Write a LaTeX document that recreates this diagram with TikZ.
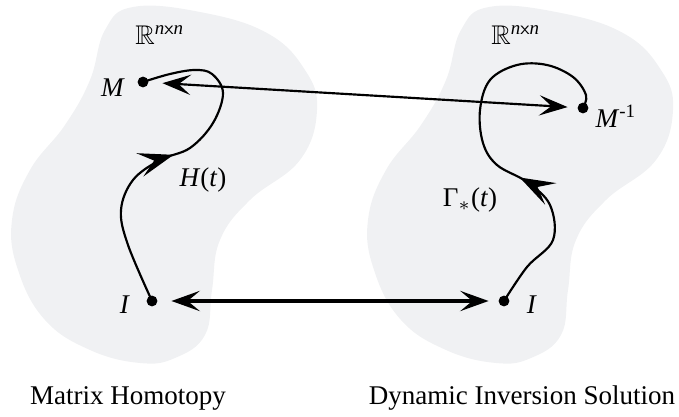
\documentclass[tikz,border=0pt]{standalone}
\usepackage{amssymb}
\usepackage{fontspec}
\setmainfont{Liberation Serif}
\usetikzlibrary{arrows.meta,decorations.markings}
\definecolor{blobgrey}{RGB}{240,241,243}

\begin{document}
\begin{tikzpicture}[
        x=0.37pt, y=-0.37pt,
        font=\fontsize{10}{12}\selectfont,
        >={Stealth[length=10.5pt, width=7.5pt, inset=4.5pt]},
        % punto sulla regione
        dot/.style={circle, fill=black, inner sep=0pt, minimum size=4pt},
        % freccia doppia tra le due regioni
        link/.style={<->, shorten <=5pt, shorten >=3.5pt},
        % traiettoria con freccia a meta'
        traj/.style={
            line width=0.8pt,
            decoration={markings, mark=at position #1 with
                {\arrow{Stealth[length=13pt, width=9pt, inset=5.5pt]}}},
            postaction={decorate}
        }
    ]
    \useasboundingbox (0,0) rectangle (679,417);

    % --- Regioni grigie ---
    \foreach \dx in {0,356}
        \fill[blobgrey, shift={(\dx,0)}] plot[smooth cycle, tension=0.7] coordinates {
            (133,7) (200,12) (267,33) (305,70) (317,110) (300,160) (250,200)
            (220,240) (212,290) (205,335) (175,358) (140,363) (90,350)
            (45,320) (18,270) (12,220) (30,170) (65,125) (90,80) (105,30)};

    % --- Regione sinistra ---
    \node (RL) at (160,35) {$\mathbb{R}$\textsuperscript{\textit{n}\textsf{x}\textit{n}}};
    \node[dot] (ML) at (143,82) {};
    \node (MLlab) at (113,88) {\textit{M}};
    \node[dot] (IL) at (152,301) {};
    \node (ILlab) at (125,305) {\textit{I}};
    \node (Hlab) at (203,180) {\textit{H}(\textit{t})};
    \draw[traj=0.5] plot[smooth, tension=0.6] coordinates {
        (IL.center) (128,245) (121,210) (133,180) (160,160) (190,148)
        (213,123) (223,93) (212,74) (195,70) (170,74) (ML.center)};

    % --- Regione destra ---
    \node (RR) at (516,35) {$\mathbb{R}$\textsuperscript{\textit{n}\textsf{x}\textit{n}}};
    \node[dot] (MR) at (583,108) {};
    \node (MRlab) at (616,116) {\textit{M}\textsuperscript{-1}};
    \node[dot] (IR) at (504,301) {};
    \node (IRlab) at (532,305) {\textit{I}};
    \node (Glab) at (470,200) {Γ$_*$(\textit{t})};
    \draw[traj=0.39] plot[smooth, tension=0.6] coordinates {
        (IR.center) (527,267) (553,240) (550,205) (527,182) (497,165)
        (483,143) (480,110) (490,80) (517,65) (547,65) (573,77) (586,95) (MR.center)};

    % --- Frecce tra le regioni ---
    \draw[link, line width=0.8pt] (ML) -- (MR);
    \draw[link, line width=1.2pt] (IL) -- (IR);

    % --- Didascalie ---
    \node (capL) at (128,398) {Matrix Homotopy};
    \node (capR) at (522,398) {Dynamic Inversion Solution};

\end{tikzpicture}
\end{document}
